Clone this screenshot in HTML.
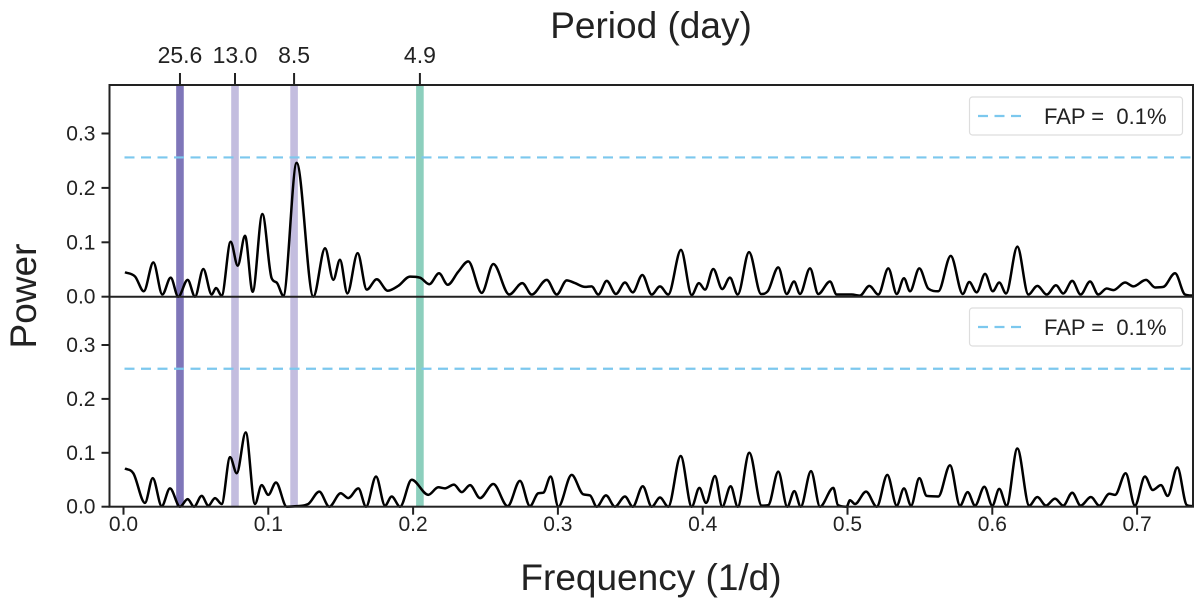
<!DOCTYPE html>
<html><head><meta charset="utf-8"><style>
html,body{margin:0;padding:0;background:#fff;}
svg{display:block;font-family:"Liberation Sans",sans-serif;}
</style></head><body>
<svg id="chart" width="1200" height="602" viewBox="0 0 1200 602"></svg>
<script>
const xTicks=[0.0,0.1,0.2,0.3,0.4,0.5,0.6,0.7];
const xTickLabels=["0.0","0.1","0.2","0.3","0.4","0.5","0.6","0.7"];
const yTicks=[0.0,0.1,0.2,0.3];
const yTickLabels=["0.0","0.1","0.2","0.3"];
const periodFreqs=[0.0390,0.0770,0.1178,0.2047];
const periodLabels=["25.6","13.0","8.5","4.9"];
const bandColors=["#7f76b9","#c3bddf","#c3bddf","#8ccfbd"];
const fapLevel=0.256;
const topFreq=[0.001,0.008,0.014,0.0206,0.0268,0.0326,0.0378,0.0443,0.0494,0.0551,0.0609,0.0639,0.0678,0.0740,0.0789,0.0839,0.0892,0.0959,0.1023,0.1058,0.1104,0.1196,0.1311,0.1392,0.1449,0.1495,0.1546,0.1617,0.1680,0.1749,0.1825,0.1898,0.1979,0.2048,0.2112,0.2179,0.2239,0.2312,0.2381,0.2474,0.2554,0.2664,0.2754,0.2819,0.2923,0.2992,0.3061,0.3118,0.3187,0.3233,0.3279,0.3337,0.3401,0.3463,0.3517,0.3583,0.3648,0.3705,0.3762,0.3850,0.3924,0.3974,0.4016,0.4073,0.4135,0.4188,0.4242,0.4320,0.4403,0.4449,0.4522,0.4580,0.4631,0.4672,0.4741,0.4798,0.4879,0.4925,0.5029,0.5086,0.5151,0.5213,0.5282,0.5340,0.5390,0.5432,0.5496,0.5558,0.5627,0.5713,0.5796,0.5841,0.5892,0.5950,0.6003,0.6048,0.6095,0.6173,0.6249,0.6311,0.6376,0.6440,0.6490,0.6552,0.6610,0.6675,0.6732,0.6790,0.6836,0.6917,0.6974,0.7062,0.7124,0.7181,0.7262,0.7331,0.7385];
const topPower=[0.045,0.037,0.01,0.063,0.004,0.035,0.0,0.031,0.0,0.051,0.004,0.016,0.002,0.101,0.057,0.112,0.009,0.152,0.034,0.026,0.002,0.246,0.0,0.089,0.031,0.068,0.006,0.080,0.013,0.032,0.011,0.020,0.037,0.035,0.023,0.043,0.022,0.046,0.065,0.007,0.060,0.004,0.025,0.004,0.031,0.004,0.030,0.025,0.018,0.019,0.004,0.029,0.005,0.026,0.008,0.040,0.004,0.019,0.004,0.086,0.003,0.025,0.013,0.051,0.014,0.035,0.004,0.082,0.005,0.010,0.054,0.005,0.028,0.005,0.052,0.005,0.028,0.004,0.004,0.002,0.020,0.004,0.052,0.005,0.034,0.010,0.052,0.015,0.010,0.075,0.005,0.027,0.008,0.042,0.010,0.026,0.006,0.092,0.004,0.020,0.004,0.021,0.006,0.029,0.004,0.028,0.004,0.015,0.012,0.026,0.019,0.031,0.017,0.018,0.043,0.004,0.002];
const botFreq=[0.001,0.0068,0.0148,0.0202,0.0264,0.0321,0.0390,0.0443,0.0487,0.0540,0.0586,0.0632,0.0678,0.0736,0.0782,0.0844,0.0908,0.0954,0.1000,0.1053,0.1127,0.1196,0.1276,0.1352,0.1421,0.1500,0.1552,0.1622,0.1675,0.1744,0.1806,0.1852,0.1910,0.1990,0.2105,0.2174,0.2220,0.2282,0.2336,0.2393,0.2462,0.2554,0.2653,0.2738,0.2807,0.2865,0.2899,0.2950,0.3003,0.3095,0.3175,0.3222,0.3268,0.3332,0.3394,0.3463,0.3517,0.3586,0.3648,0.3705,0.3762,0.3848,0.3924,0.3977,0.4023,0.4085,0.4135,0.4193,0.4242,0.4322,0.4407,0.4453,0.4522,0.4584,0.4633,0.4677,0.4748,0.4810,0.4902,0.4934,0.4994,0.5017,0.5052,0.5128,0.5202,0.5275,0.5340,0.5390,0.5439,0.5496,0.5547,0.5627,0.5708,0.5777,0.5830,0.5881,0.5945,0.6000,0.6048,0.6099,0.6173,0.6255,0.6311,0.6371,0.6433,0.6490,0.6552,0.6610,0.6681,0.6739,0.6808,0.6848,0.6921,0.6985,0.7054,0.7108,0.7165,0.7211,0.7278,0.7343,0.7385];
const botPower=[0.071,0.062,0.007,0.053,0.001,0.034,0.0,0.014,0.0,0.020,0.002,0.016,0.005,0.092,0.062,0.138,0.005,0.040,0.022,0.045,0.0,0.001,0.005,0.028,0.0,0.025,0.016,0.034,0.0,0.056,0.002,0.019,0.0,0.050,0.022,0.036,0.034,0.041,0.027,0.040,0.016,0.042,0.001,0.048,0.001,0.025,0.026,0.056,0.0,0.059,0.023,0.021,0.0,0.021,0.0,0.019,0.0,0.038,0.0,0.017,0.0,0.094,0.0,0.035,0.007,0.057,0.0,0.038,0.0,0.100,0.002,0.003,0.065,0.0,0.029,0.0,0.066,0.0,0.035,0.003,0.0,0.012,0.005,0.028,0.0,0.059,0.002,0.034,0.002,0.053,0.020,0.019,0.077,0.002,0.027,0.002,0.037,0.002,0.033,0.002,0.108,0.002,0.018,0.002,0.015,0.002,0.026,0.002,0.018,0.002,0.024,0.022,0.062,0.002,0.056,0.031,0.040,0.020,0.073,0.003,0.001];

const NS="http://www.w3.org/2000/svg";
const svg=document.getElementById('chart');
const L=109.5,R=1193,T=85,M=296.7,B=506.7;
const xs=f=>123.5+1448*f;
const yTop=p=>M-p*544;
const yBot=p=>B-p*539;
function mk(tag,attrs,parent){const e=document.createElementNS(NS,tag);for(const k in attrs)e.setAttribute(k,attrs[k]);(parent||svg).appendChild(e);return e;}
function monotonePath(X,Y){
  const n=X.length;const d=[],m=[];
  for(let i=0;i<n-1;i++)d.push((Y[i+1]-Y[i])/(X[i+1]-X[i]));
  for(let i=0;i<n;i++){
    if(i===0)m.push(d[0]);else if(i===n-1)m.push(d[n-2]);
    else m.push(d[i-1]*d[i]<=0?0:(d[i-1]+d[i])/2);
  }
  for(let i=0;i<n-1;i++){
    if(d[i]===0){m[i]=0;m[i+1]=0;continue;}
    const a=m[i]/d[i],b=m[i+1]/d[i],s=a*a+b*b;
    if(s>9){const t=3/Math.sqrt(s);m[i]=t*a*d[i];m[i+1]=t*b*d[i];}
  }
  let p='M'+X[0].toFixed(2)+','+Y[0].toFixed(2);
  for(let i=0;i<n-1;i++){const h=(X[i+1]-X[i])/3;
    p+='C'+(X[i]+h).toFixed(2)+','+(Y[i]+m[i]*h).toFixed(2)+' '+(X[i+1]-h).toFixed(2)+','+(Y[i+1]-m[i+1]*h).toFixed(2)+' '+X[i+1].toFixed(2)+','+Y[i+1].toFixed(2);}
  return p;
}
periodFreqs.forEach((f,i)=>{
  const r=mk('rect',{x:xs(f)-3.8,y:T,width:7.6,height:B-T,fill:bandColors[i]});
  
  
});
[[yTop,'top'],[yBot,'bottom']].forEach(([ys,nm])=>{
  const l=mk('line',{x1:L+15,x2:R,y1:ys(fapLevel),y2:ys(fapLevel),stroke:'#7cc8ee','stroke-width':2.2,'stroke-dasharray':'10 6.5'});
  
  
});
const c1=mk('path',{d:monotonePath(topFreq.map(xs),topPower.map(yTop)),fill:'none',stroke:'#000','stroke-width':2.5,'stroke-linejoin':'round'});


const c2=mk('path',{d:monotonePath(botFreq.map(xs),botPower.map(yBot)),fill:'none',stroke:'#000','stroke-width':2.5,'stroke-linejoin':'round'});


const fr=mk('rect',{x:L,y:T,width:R-L,height:B-T,fill:'none',stroke:'#222','stroke-width':2});


const mid=mk('line',{x1:L,x2:R,y1:M,y2:M,stroke:'#222','stroke-width':2});


xTicks.forEach((v,i)=>{
  const t=mk('line',{x1:xs(v),x2:xs(v),y1:B,y2:B+8,stroke:'#222','stroke-width':2});
  
  
  const tx=mk('text',{x:xs(v),y:531,'font-size':21,'text-anchor':'middle',fill:'#222'});
  tx.textContent=xTickLabels[i];
  
  
});
[yTop,yBot].forEach(ys=>{
  yTicks.forEach((v,i)=>{
    const t=mk('line',{x1:L-8,x2:L,y1:ys(v),y2:ys(v),stroke:'#222','stroke-width':2});
    
    
    const tx=mk('text',{x:L-14,y:ys(v)+7,'font-size':21,'text-anchor':'end',fill:'#222'});
    tx.textContent=yTickLabels[i];
    
    
  });
});
periodFreqs.forEach((f,i)=>{
  const t=mk('line',{x1:xs(f),x2:xs(f),y1:T-12,y2:T,stroke:'#222','stroke-width':2});
  
  
  const tx=mk('text',{x:xs(f),y:63,'font-size':23,'text-anchor':'middle',fill:'#222'});
  tx.textContent=periodLabels[i];
  
  
});
[[97,'top'],[308,'bottom']].forEach(([y0,nm])=>{
  const g=mk('g',{});
  
  
  mk('rect',{x:969.5,y:y0,width:213,height:38,rx:3,fill:'#fff',stroke:'#ddd','stroke-width':1.2},g);
  mk('line',{x1:978,x2:1025,y1:y0+19,y2:y0+19,stroke:'#7cc8ee','stroke-width':2.2,'stroke-dasharray':'10 6.5'},g);
  const tx=mk('text',{x:1044,y:y0+27,'font-size':22,fill:'#222'},g);
  tx.textContent='FAP =\u00a0 0.1%';
  
  
});
const tt=mk('text',{x:651,y:38,'font-size':37,'text-anchor':'middle',fill:'#222'});
tt.textContent='Period (day)';


const xt=mk('text',{x:651,y:590,'font-size':37,'text-anchor':'middle',fill:'#222'});
xt.textContent='Frequency (1/d)';


const yt=mk('text',{x:0,y:0,'font-size':37,'text-anchor':'middle',fill:'#222',transform:'translate(36,296) rotate(-90)'});
yt.textContent='Power';


</script>
</body></html>
